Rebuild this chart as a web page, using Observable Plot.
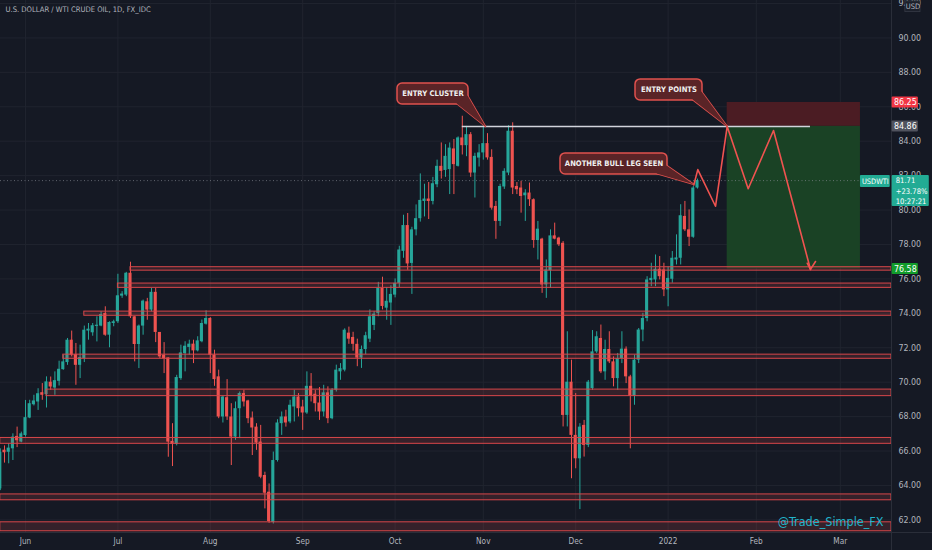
<!DOCTYPE html>
<html><head><meta charset="utf-8">
<script src="https://cdn.jsdelivr.net/npm/d3@7"></script>
<script src="https://cdn.jsdelivr.net/npm/@observablehq/plot@0.6"></script>
<style>
html,body{margin:0;padding:0;background:#151924;overflow:hidden;}
#chart svg{display:block}
</style></head><body><div id="chart"></div>
<script>
// ---- Daily bars (bar index 0 = 1 Jun 2021) ----
const startIndex = -6;
const opens = [
63.80,66.05,65.93,66.13,66.85,66.52,66.90,67.92,68.69,68.85,
69.39,69.28,70.00,69.66,70.05,70.73,71.14,72.44,71.60,70.98,
71.37,72.97,72.87,73.24,73.26,73.99,72.73,73.41,73.51,75.00,
75.06,76.33,73.80,72.19,73.26,74.67,74.19,75.22,72.89,71.57,
71.41,66.56,66.39,70.21,71.66,72.02,72.21,71.82,72.35,73.37,
73.70,71.57,70.31,67.98,69.10,67.98,66.81,68.46,69.34,68.91,
67.92,67.39,66.52,64.58,63.61,61.85,65.45,67.59,67.98,67.69,
68.56,69.14,68.56,68.21,69.76,69.30,68.79,68.27,69.38,67.88,
69.53,70.60,70.70,72.85,72.60,72.20,71.40,71.90,72.50,73.30,
74.00,75.45,74.30,74.60,75.06,75.74,77.60,79.10,76.90,78.85,
79.50,80.50,80.64,80.50,81.47,82.54,82.30,82.35,83.55,82.54,
84.19,83.74,84.38,82.15,83.02,83.32,83.86,83.06,80.21,79.34,
81.34,82.15,84.58,81.37,81.28,80.83,80.99,80.60,78.23,78.31,
75.65,76.48,78.50,78.37,78.07,68.07,70.00,66.91,65.55,67.49,
66.33,69.63,71.76,72.54,70.60,71.90,71.18,70.21,71.37,71.92,
70.31,69.18,71.28,73.03,73.70,75.90,75.94,76.56,76.52,75.36,
75.98,77.10,77.20,79.63,78.85,78.42,81.28];
const highs = [
66.13,66.30,66.42,67.00,67.39,67.10,68.94,68.95,69.24,69.62,
69.92,70.31,70.30,70.60,71.22,71.57,72.54,72.97,72.25,72.15,
73.26,73.41,73.41,73.80,74.09,74.38,73.51,73.60,76.27,75.26,
76.38,76.97,73.80,73.32,74.77,74.87,75.45,75.45,72.89,72.30,
71.41,67.59,70.40,72.15,72.35,72.44,72.44,72.64,73.61,74.15,
73.75,71.86,70.70,69.18,70.15,68.75,68.85,69.43,69.53,68.95,
68.27,67.59,67.49,64.77,64.09,65.94,67.82,68.27,68.37,68.95,
69.53,69.34,68.95,70.60,70.50,69.53,69.69,69.82,69.73,69.63,
70.99,71.08,73.10,73.20,72.90,72.50,72.10,72.90,74.20,74.10,
75.80,76.10,75.50,75.60,76.00,77.90,79.70,79.80,79.00,80.30,
82.10,81.50,81.60,81.90,82.90,83.90,83.80,83.90,84.10,84.25,
85.45,84.86,84.50,83.30,83.80,84.96,84.44,83.50,80.50,81.50,
82.40,84.90,85.07,81.60,81.67,81.18,81.57,80.65,79.34,78.36,
77.10,78.85,79.24,78.42,78.17,72.93,71.28,69.34,67.59,67.78,
70.10,73.00,72.93,73.32,72.44,72.93,71.47,71.67,72.93,72.05,
70.40,71.57,73.12,74.00,76.13,76.91,77.39,77.30,76.91,76.71,
77.59,78.56,80.31,80.50,80.01,81.37,81.80];
const lows = [
63.70,65.30,65.26,65.45,66.20,66.48,66.81,67.88,68.62,68.36,
68.95,68.50,69.53,69.24,69.78,70.69,70.98,71.47,69.82,70.21,
71.14,72.44,72.67,72.34,73.22,72.67,72.00,73.22,73.41,74.87,
74.97,73.70,71.18,70.79,72.73,73.60,74.09,72.30,71.37,70.50,
65.64,65.10,66.30,70.11,70.60,71.57,71.08,71.76,72.29,73.32,
70.50,69.76,67.88,67.63,67.78,65.16,66.62,66.72,68.56,67.59,
65.74,66.04,64.39,62.64,61.80,61.76,65.36,66.91,67.39,67.59,
67.69,67.98,67.20,68.13,68.85,68.27,67.78,67.98,67.59,67.82,
69.43,70.11,70.60,72.20,71.80,70.90,70.80,71.60,72.30,73.00,
73.80,74.20,73.60,73.30,74.90,75.50,77.20,76.50,75.10,78.50,
79.30,79.60,79.45,80.30,81.30,81.80,81.90,80.90,80.90,82.50,
83.20,83.10,81.90,80.70,82.50,82.90,82.90,80.00,78.30,79.05,
81.20,82.00,80.90,80.90,79.82,79.34,80.21,77.78,77.10,75.16,
74.87,75.45,78.27,77.88,67.40,67.40,64.39,64.97,62.60,65.65,
66.20,69.53,71.67,70.50,70.11,71.08,69.73,69.53,71.08,69.92,
66.13,68.66,71.08,72.35,73.51,75.55,75.55,75.94,74.97,74.38,
75.75,76.81,76.81,78.75,77.88,78.36,81.22];
const closes = [
65.93,65.90,66.17,66.81,66.60,67.00,67.94,68.75,68.91,69.33,
69.24,70.02,69.72,70.09,70.75,71.18,72.44,71.57,70.98,71.43,
73.02,73.08,73.28,73.31,73.93,72.73,73.47,73.51,75.02,75.12,
76.33,73.80,72.19,73.26,74.71,74.19,75.22,72.89,71.47,71.37,
66.52,66.39,70.27,71.70,72.09,72.21,71.82,72.40,73.41,73.70,
71.57,70.15,67.98,69.14,67.98,66.81,68.46,69.34,68.85,67.88,
67.34,66.46,64.48,63.55,61.90,65.45,67.63,67.98,67.63,68.66,
69.14,68.46,68.21,69.76,69.18,68.75,68.27,69.38,67.88,69.53,
70.70,70.79,73.02,72.50,72.20,71.40,71.90,72.70,73.80,73.95,
75.45,74.40,74.70,75.10,75.74,77.68,79.10,76.87,78.85,79.50,
80.56,80.64,80.50,81.53,82.54,82.25,83.12,83.60,82.64,84.19,
83.74,84.38,82.15,83.12,83.32,83.86,83.03,80.11,79.34,81.37,
82.25,84.58,81.28,81.18,80.79,80.99,80.60,78.23,78.89,75.65,
76.52,78.50,78.31,77.98,68.07,70.00,66.91,65.55,67.39,66.33,
70.00,71.76,72.64,70.60,71.90,71.18,70.21,71.37,71.92,70.31,
69.18,71.28,73.03,73.70,75.94,76.03,76.56,76.13,75.36,76.03,
77.20,77.22,79.67,78.85,78.42,81.28,81.71];

// ---- Axis ticks ----
const monthTickIndex = [0, 22, 44, 66, 88, 109, 131, 153, 174, 194];
const monthTickLabels = ["Jun","Jul","Aug","Sep","Oct","Nov","Dec","2022","Feb","Mar"];
const priceTicks = [62,64,66,68,70,72,74,76,78,80,82,84,86,88,90,92];

// ---- Support / resistance zones ----
const zoneLow   = [76.48, 75.48, 73.86, 71.36, 69.19, 66.42, 63.14, 61.34];
const zoneHigh  = [76.68, 75.73, 74.10, 71.60, 69.57, 66.76, 63.48, 61.86];
const zoneStart = [25, 22, 14, 9, 5, -6, -6, -6];

// ---- Trade idea ----
const entryPrice = 84.86, stopPrice = 86.25, targetPrice = 76.58;
const tradeStart = 167.07, tradeEnd = 198.8;
const clusterLineStart = 104, clusterLineEnd = 186.9;
const zigX = [159.12, 160.07, 164.29, 167.07, 172.07, 178.1, 186.9];
const zigY = [81.46, 82.35, 80.22, 84.86, 81.24, 84.62, 76.55];
const chevX = [186.12, 186.9, 188.1];
const chevY = [76.91, 76.55, 77.01];

const calloutLabels = ["ENTRY CLUSTER", "ENTRY POINTS", "ANOTHER BULL LEG SEEN"];
const calloutBoxX = [[88.57,105.48],[145.24,161.19],[127.38,152.86]];
const calloutBoxY = [[86.13,87.35],[86.37,87.59],[82.07,83.29]];
const calloutTail = [
  [[102.62,86.19],[109.52,84.86],[105.24,86.66]],
  [[158.81,86.42],[167.07,84.86],[160.95,86.89]],
  [[150.24,82.12],[159.05,81.50],[152.62,82.59]]
];

const lastClose = closes[closes.length-1];
const changeText = "+23.78%";
const timerText = "10:27:21";
const title = "U.S. DOLLAR / WTI CRUDE OIL, 1D, FX_IDC";
const watermark = "@Trade_Simple_FX";

// ---- build tables ----
const candles = opens.map((o,k)=>({i:startIndex+k,o,h:highs[k],l:lows[k],c:closes[k]}));
const zones = zoneLow.map((lo,k)=>({lo,hi:zoneHigh[k],s:zoneStart[k]}));
const zig = zigX.map((x,k)=>({x,y:zigY[k]}));
const chev = chevX.map((x,k)=>({x,y:chevY[k]}));
const callouts = calloutLabels.map((t,k)=>({t,x1:calloutBoxX[k][0],x2:calloutBoxX[k][1],y1:calloutBoxY[k][0],y2:calloutBoxY[k][1]}));
const tails = calloutTail.flatMap((pts,k)=>pts.map(p=>({k,x:p[0],y:p[1]})));

const XMIN = -5.952, XMAX = 206.19, YMIN = 61.268, YMAX = 92.174;
const UP = "#26a69a", DOWN = "#ef5350";
const FONT = '"Liberation Sans Narrow","DejaVu Sans Condensed","Roboto Condensed","Liberation Sans",Arial,sans-serif';
const col = d => d.c >= d.o ? UP : DOWN;

const tags = [
  {v: stopPrice, t: stopPrice.toFixed(2), bg:"#f23645"},
  {v: entryPrice, t: entryPrice.toFixed(2), bg:"#50535e"},
  {v: targetPrice, t: targetPrice.toFixed(2), bg:"#129c2b"}
];

const txt = {fontFamily: FONT};

const chart = Plot.plot({
  width: 932, height: 550,
  marginLeft: 0, marginRight: 41, marginTop: 0, marginBottom: 18,
  style: {background:"#151924", color:"#b2b5be", fontFamily: FONT, overflow:"hidden"},
  x: {type:"linear", domain:[XMIN, XMAX], axis:null},
  y: {type:"linear", domain:[YMIN, YMAX], axis:null},
  marks: [
    Plot.ruleX(monthTickIndex, {stroke:"#20242f", strokeWidth:1}),
    Plot.ruleY(priceTicks, {x1:XMIN, x2:XMAX, stroke:"#20242f", strokeWidth:1}),
    // trade boxes
    Plot.rect([0], {x1:tradeStart, x2:tradeEnd, y1:entryPrice, y2:stopPrice, fill:"#4b1c23"}),
    Plot.rect([0], {x1:tradeStart, x2:tradeEnd, y1:targetPrice, y2:entryPrice, fill:"#1a4225"}),
    // candles
    Plot.ruleX(candles, {x:"i", y1:"l", y2:"h", stroke:col, strokeWidth:1}),
    Plot.rect(candles, {x1:d=>d.i-0.37, x2:d=>d.i+0.37,
      y1:d=>Math.min(d.o,d.c),
      y2:d=>Math.max(Math.max(d.o,d.c), Math.min(d.o,d.c)+0.07),
      fill:col}),
    // zones
    Plot.rect(zones, {x1:"s", x2:XMAX, y1:"lo", y2:"hi", fill:"#f05350", fillOpacity:0.15, stroke:"#d8474a", strokeWidth:1}),
    // current price line
    Plot.ruleY([lastClose], {x1:XMIN, x2:tradeEnd, stroke:"#9598a1", strokeOpacity:0.6, strokeDasharray:"1,2.5"}),
    // entry cluster line
    Plot.ruleY([entryPrice], {x1:clusterLineStart, x2:clusterLineEnd, stroke:"#d1d4dc", strokeWidth:1.5}),
    // zigzag projection
    Plot.line(zig, {x:"x", y:"y", stroke:"#f05350", strokeWidth:1.6}),
    Plot.line(chev, {x:"x", y:"y", stroke:"#f05350", strokeWidth:1.6}),
    // callouts
    Plot.line(tails, {x:"x", y:"y", z:"k", fill:"#5a2427", stroke:"#e0514e", strokeWidth:1.5}),
    Plot.rect(callouts, {x1:"x1", x2:"x2", y1:"y1", y2:"y2", fill:"#5a2427", stroke:"#e0514e", strokeWidth:1.5, rx:5}),
    Plot.line(tails, {x:"x", y:"y", z:"k", fill:"#5a2427", stroke:"none"}),
    Plot.text(callouts, {x:d=>(d.x1+d.x2)/2, y:d=>(d.y1+d.y2)/2, text:"t", fill:"#f0f0f0", fontSize:7.6, fontWeight:"bold", ...txt}),
    // axis separators
    Plot.ruleX([XMAX], {y1:YMIN-2, y2:YMAX, stroke:"#2a2e39"}),
    Plot.ruleY([YMIN], {x1:XMIN, x2:XMAX+10, stroke:"#2a2e39"}),
    // price labels
    Plot.text(priceTicks, {x:XMAX, y:d=>d, dx:7, text:d=>d.toFixed(2), textAnchor:"start", fill:"#b2b5be", fontSize:8.8, ...txt}),
    // time labels
    Plot.text(monthTickIndex, {x:d=>d, y:YMIN, dy:9, text:(d,k)=>monthTickLabels[k], fill:"#b2b5be", fontSize:8.2, ...txt}),
    // price tags
    Plot.rect(tags, {x1:XMAX+0.15, x2:XMAX+6.4, y1:d=>d.v-0.32, y2:d=>d.v+0.32, fill:"bg", rx:1}),
    Plot.text(tags, {x:XMAX+3.3, y:"v", text:"t", fill:"#ffffff", fontSize:8.8, ...txt}),
    Plot.rect([0], {x1:tradeEnd, x2:XMAX-0.3, y1:lastClose-0.4, y2:lastClose+0.3, fill:"#22ab94", rx:1}),
    Plot.text(["USDWTI"], {x:(tradeEnd+XMAX-0.3)/2, y:lastClose-0.05, fill:"#ffffff", fontSize:7.4, ...txt}),
    Plot.rect([0], {x1:XMAX+0.15, x2:XMAX+9.0, y1:80.2, y2:lastClose+0.3, fill:"#22ab94", rx:1}),
    Plot.text([lastClose.toFixed(2), changeText, timerText], {x:XMAX+1.0, y:(d,k)=>[81.72,81.08,80.50][k], text:d=>d, textAnchor:"start", fill:"#ffffff", fontSize:7.6, ...txt}),
    Plot.rect([0], {x1:XMAX+3.3, x2:XMAX+6.9, y1:91.5, y2:92.12, fill:"#1c202b", stroke:"#363a45", strokeWidth:0.8}),
    Plot.text(["USD"], {x:XMAX+5.1, y:91.8, fill:"#b2b5be", fontSize:7.5, ...txt}),
    // title & watermark
    Plot.text([title], {frameAnchor:"top-left", dx:5, dy:6, lineAnchor:"top", textAnchor:"start", fill:"#b2b5be", fontSize:7.6, ...txt}),
    Plot.text([watermark], {frameAnchor:"bottom-right", dx:-8, dy:-7, lineAnchor:"bottom", textAnchor:"end", fill:"#22b5cc", fontSize:12.5, ...txt})
  ]
});
document.getElementById("chart").appendChild(chart);
</script>
</body></html>
